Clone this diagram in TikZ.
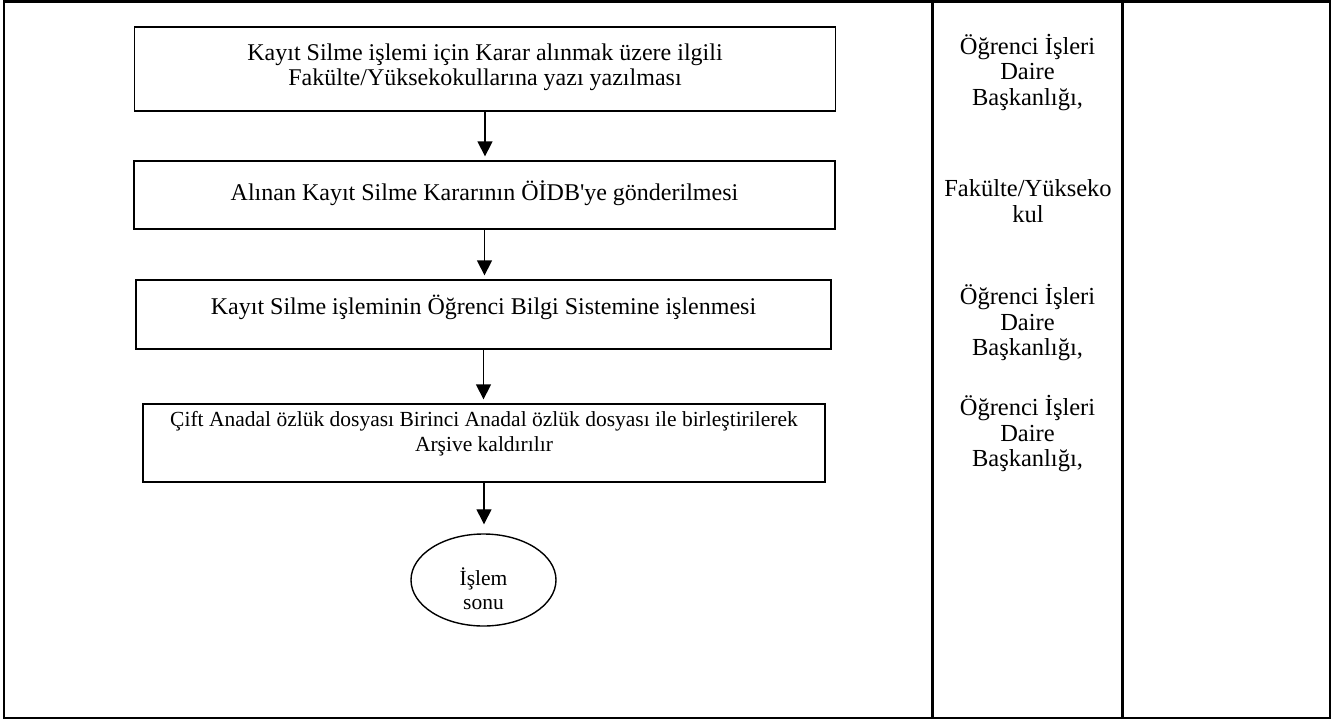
\documentclass[tikz,border=0pt]{standalone}
\usepackage{fontspec}
\setmainfont{Liberation Serif}
\usetikzlibrary{arrows.meta,shapes.geometric}
\begin{document}
\begin{tikzpicture}[x=1pt,y=-1pt,
  frameline/.style={line width=2.2pt},
  stepbox/.style={draw, line width=1.3pt, rectangle, inner sep=0pt},
  endnode/.style={draw, line width=1.4pt, ellipse, inner sep=0pt, minimum width=145pt, minimum height=92pt},
  boxtext/.style={align=center, inner sep=0pt, font=\fontsize{24}{25.5}\selectfont},
  smalltext/.style={align=center, inner sep=0pt, font=\fontsize{21.5}{24.5}\selectfont},
  lanetext/.style={align=center, inner sep=0pt, font=\fontsize{24.5}{25.5}\selectfont},
  flow/.style={-{Triangle[length=15pt,width=15pt]}, line width=1.3pt, shorten >=4pt}]
\useasboundingbox (0,0) rectangle (1333,720);
% frame and lanes
\draw[frameline] (4,1.5) rectangle (1330,718);
\draw[frameline] (932.5,1.5) -- (932.5,718);
\draw[frameline] (1122.5,1.5) -- (1122.5,718);
% steps
\node[stepbox, minimum width=701pt, minimum height=84pt] (s1) at (485,69) {};
\node[boxtext] (s1t) at (485,67.5) {Kayıt Silme işlemi için Karar alınmak üzere ilgili\\Fakülte/Yüksekokullarına yazı yazılması};
\node[stepbox, minimum width=701pt, minimum height=68pt] (s2) at (484.5,195) {};
\node[boxtext] (s2t) at (484.5,193) {Alınan Kayıt Silme Kararının ÖİDB\textquotesingle ye gönderilmesi};
\node[stepbox, minimum width=695pt, minimum height=69pt] (s3) at (483.5,314.5) {};
\node[boxtext] (s3t) at (483.5,307) {Kayıt Silme işleminin Öğrenci Bilgi Sistemine işlenmesi};
\node[stepbox, minimum width=682pt, minimum height=78pt] (s4) at (484,443) {};
\node[smalltext] (s4t) at (484,433.5) {Çift Anadal özlük dosyası Birinci Anadal özlük dosyası ile birleştirilerek\\Arşive kaldırılır};
\node[endnode] (e) at (483.5,580) {};
\node[smalltext] (et) at (483.5,588.5) {İşlem\\sonu};
% arrows
\draw[flow] (s1.south) -- (s1.south |- s2.north);
\draw[flow] (s2.south) -- (s2.south |- s3.north);
\draw[flow] (s3.south) -- (s3.south |- s4.north);
\draw[flow, shorten >=9pt] (s4.south) -- (s4.south |- e.north);
% lane texts
\node[lanetext] (l1) at (1027.5,72.5) {Öğrenci İşleri\\Daire\\Başkanlığı,};
\node[lanetext] (l2) at (1028,201) {Fakülte/Yükseko\\kul};
\node[lanetext] (l3) at (1027.5,323) {Öğrenci İşleri\\Daire\\Başkanlığı,};
\node[lanetext] (l4) at (1027.5,434) {Öğrenci İşleri\\Daire\\Başkanlığı,};
\end{tikzpicture}
\end{document}
